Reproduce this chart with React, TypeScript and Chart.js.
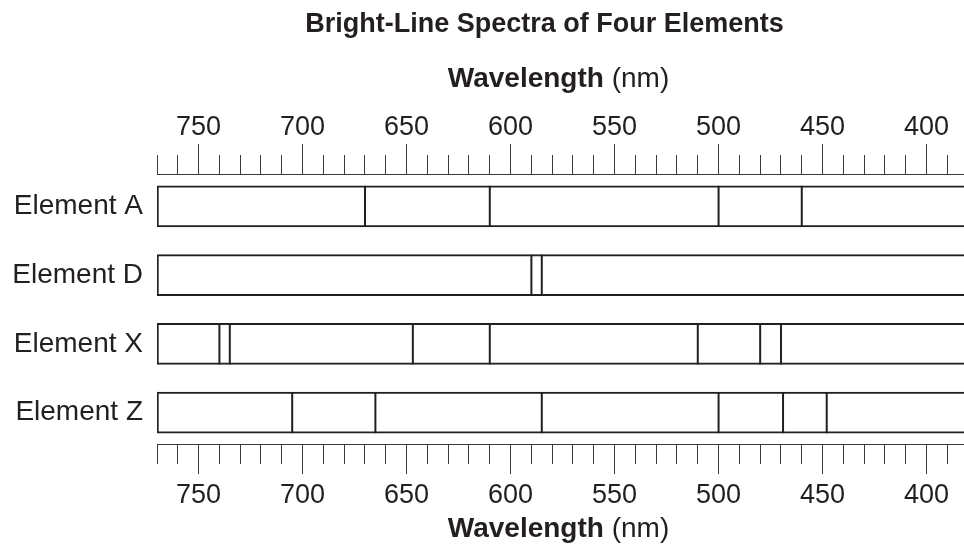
import React, { useEffect, useRef } from 'react';
import { Chart, registerables } from 'chart.js';

Chart.register(...registerables);

// ---- data ----
const ELEMENTS = ['Element A', 'Element D', 'Element X', 'Element Z'];
const LINES_A = [670, 610, 500, 460];
const LINES_D = [590, 585];
const LINES_X = [740, 735, 647, 610, 510, 480, 470];
const LINES_Z = [705, 665, 585, 500, 469, 448];
const SPECTRUM_START = 770;
const SPECTRUM_END = 370;
const AXIS_MIN = 382;
const AXIS_MAX = 770;
const TICK_STEP = 10;
const LABEL_STEP = 50;
const TITLE = 'Bright-Line Spectra of Four Elements';
const AXIS_TITLE_BOLD = 'Wavelength';
const AXIS_TITLE_REST = ' (nm)';

// ---- style ----
const INK = '#231f20';
const TICK_INK = '#3a3a3a';
const FONT = "'Liberation Sans', Arial, Helvetica, sans-serif";
const W = 964;
const H = 552;

const ALL_LINES = [LINES_A, LINES_D, LINES_X, LINES_Z];

const isMajor = (c: any) => c && c.tick && Math.round(c.tick.value) % LABEL_STEP === 0;

const textPlugin = {
  id: 'spectraTexts',
  afterDraw(chart: any) {
    const { ctx, chartArea } = chart;
    const cx = (chartArea.left + chartArea.right) / 2;
    ctx.save();
    ctx.fillStyle = INK;
    ctx.textBaseline = 'middle';
    ctx.textAlign = 'center';
    ctx.font = `bold 27px ${FONT}`;
    ctx.fillText(TITLE, cx - 16, 25);

    const drawAxisTitle = (y: number) => {
      ctx.font = `bold 28px ${FONT}`;
      const w1 = ctx.measureText(AXIS_TITLE_BOLD).width;
      ctx.font = `28px ${FONT}`;
      const w2 = ctx.measureText(AXIS_TITLE_REST).width;
      const x0 = cx - 2 - (w1 + w2) / 2;
      ctx.textAlign = 'left';
      ctx.font = `bold 28px ${FONT}`;
      ctx.fillText(AXIS_TITLE_BOLD, x0, y);
      ctx.font = `28px ${FONT}`;
      ctx.fillText(AXIS_TITLE_REST, x0 + w1, y);
    };
    drawAxisTitle(79);
    drawAxisTitle(chart.height - 23);
    ctx.restore();
  },
};

function xAxis(position: 'top' | 'bottom', height: number, labelPad: number) {
  return {
    type: 'linear',
    position,
    min: AXIS_MIN,
    max: AXIS_MAX,
    reverse: true,
    offset: false,
    afterFit: (axis: any) => {
      axis.height = height;
      axis.paddingLeft = 0;
      axis.paddingRight = 0;
    },
    border: { display: true, color: TICK_INK, width: 1 },
    grid: {
      offset: false,
      drawOnChartArea: false,
      drawTicks: true,
      tickLength: 30,
      tickWidth: 1,
      tickColor: TICK_INK,
      tickBorderDash: (c: any) => (isMajor(c) ? [] : [19, 11]),
      tickBorderDashOffset: (c: any) => (isMajor(c) ? 0 : position === 'top' ? 19 : 0),
    },
    ticks: {
      stepSize: TICK_STEP,
      includeBounds: false,
      maxTicksLimit: 100,
      autoSkip: false,
      maxRotation: 0,
      minRotation: 0,
      padding: labelPad,
      color: INK,
      font: { family: FONT, size: 27 },
      callback: (v: number) => (Math.round(v) % LABEL_STEP === 0 ? String(v) : ''),
    },
  };
}

export default function App() {
  const ref = useRef<HTMLCanvasElement | null>(null);

  useEffect(() => {
    if (!ref.current) return;
    const lineData: { x: number; y: number }[] = [];
    ALL_LINES.forEach((arr, i) => arr.forEach((nm) => lineData.push({ x: nm, y: i })));

    const chart = new Chart(ref.current, {
      type: 'bar',
      data: {
        datasets: [
          {
            type: 'scatter',
            data: lineData,
            xAxisID: 'x',
            yAxisID: 'y',
            order: 1,
            showLine: false,
            pointStyle: 'line',
            pointRadius: 20.5,
            pointHoverRadius: 20.5,
            pointRotation: 90,
            borderWidth: 2,
            pointBorderWidth: 2,
            borderColor: INK,
            backgroundColor: INK,
          } as any,
          {
            type: 'bar',
            indexAxis: 'y',
            data: ELEMENTS.map((_, i) => ({ y: i, x: [SPECTRUM_START, SPECTRUM_END] })),
            xAxisID: 'x',
            yAxisID: 'y',
            order: 2,
            barThickness: 41,
            borderWidth: 2,
            borderSkipped: false,
            borderColor: INK,
            backgroundColor: '#ffffff',
          } as any,
        ],
      },
      options: {
        responsive: false,
        animation: false,
        events: [],
        layout: { padding: 0, autoPadding: false },
        plugins: {
          legend: { display: false },
          tooltip: { enabled: false },
          title: { display: false },
        },
        scales: {
          x: xAxis('bottom', 108, 5) as any,
          x2: xAxis('top', 174, 0) as any,
          y: {
            type: 'linear',
            reverse: true,
            offset: false,
            min: -0.4695,
            max: 3.4549,
            afterFit: (axis: any) => {
              axis.width = 157;
              axis.paddingTop = 0;
              axis.paddingBottom = 0;
            },
            afterBuildTicks: (axis: any) => {
              axis.ticks = ELEMENTS.map((_, i) => ({ value: i }));
            },
            grid: { display: false, drawTicks: false, tickLength: 0, offset: false },
            border: { display: false },
            ticks: {
              padding: 14,
              autoSkip: false,
              color: INK,
              font: { family: FONT, size: 28 },
              callback: (v: number) => ELEMENTS[Math.round(v)] ?? '',
            },
          } as any,
        },
      },
      plugins: [textPlugin],
    });
    return () => chart.destroy();
  }, []);

  return (
    <div style={{ position: 'absolute', left: 0, top: 0, width: W, height: H, background: '#fff' }}>
      <canvas ref={ref} width={W} height={H} style={{ display: 'block' }} />
    </div>
  );
}
